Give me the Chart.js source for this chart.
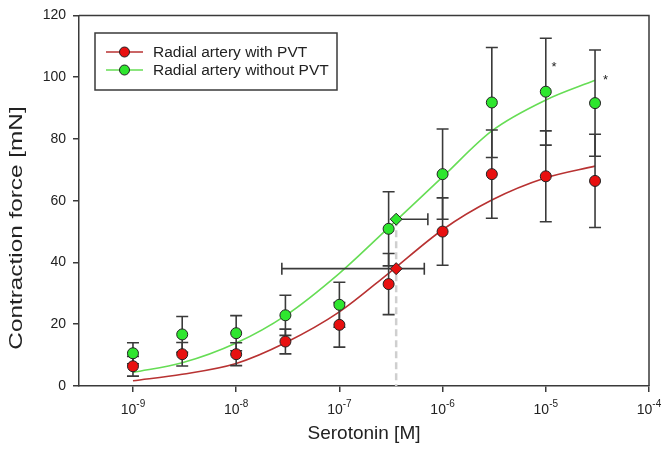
<!DOCTYPE html>
<html>
<head>
<meta charset="utf-8">
<script src="https://cdn.jsdelivr.net/npm/chart.js@4/dist/chart.umd.min.js"></script>
<style>
  html, body { margin: 0; padding: 0; background: #fff; }
  #wrap { width: 666px; height: 453px; }
</style>
</head>
<body>
<div id="wrap"><canvas id="chart" width="666" height="453"></canvas></div>
<script>
// serotonin concentrations [M]
const conc = [1e-9, 3e-9, 1e-8, 3e-8, 1e-7, 3e-7, 1e-6, 3e-6, 1e-5, 3e-5];

// mean contraction force [mN] and error
const withPvt = [6.4, 10.3, 10.3, 14.4, 19.8, 33.0, 50.0, 68.6, 67.9, 66.4];
const withPvtErr = [3.2, 3.8, 3.7, 4.0, 7.2, 9.9, 10.9, 14.3, 14.7, 15.1];
const withoutPvt = [10.6, 16.7, 17.1, 22.9, 26.3, 50.9, 68.6, 91.8, 95.3, 91.6];
const withoutPvtErr = [3.4, 5.8, 5.7, 6.5, 7.3, 12.0, 14.6, 17.8, 17.3, 17.2];

// fitted curves, read at each concentration
const fitWithPvt = [1.7, 3.8, 7.3, 14.0, 24.0, 36.5, 50.6, 60.2, 67.4, 71.2];
const fitWithoutPvt = [4.4, 7.5, 13.9, 22.8, 36.5, 51.3, 67.7, 82.6, 92.6, 99.0];

// EC50 markers: [with PVT, without PVT]
const ec50X = [3.55e-7, 3.55e-7];
const ec50Y = [38.0, 54.0];
const ec50Lo = [2.77e-8, 3.55e-7];
const ec50Hi = [6.65e-7, 7.2e-7];

// significance stars
const starX = [1.2e-5, 3.8e-5];
const starY = [104, 100];

// axis ticks
const xTicks = [1e-9, 1e-8, 1e-7, 1e-6, 1e-5, 1e-4];
const xExp = ['-9', '-8', '-7', '-6', '-5', '-4'];
const yTicks = [0, 20, 40, 60, 80, 100, 120];

const seriesNames = ['Radial artery with PVT', 'Radial artery without PVT'];
const RED = '#e81010', GREEN = '#2ee62e';
const RED_LINE = '#b83232', GREEN_LINE = '#66dd55';
const INK = '#3a3a3a';
const FONT = 'Arial, "Liberation Sans", sans-serif';

const pts = (xs, ys) => xs.map((x, i) => ({ x: x, y: ys[i] }));

// error bars, EC50 ranges and the dashed EC50 drop line (drawn under the markers)
const errorBars = {
  id: 'errorBars',
  beforeDatasetDraw(chart, args) {
    if (args.index !== 2) return;
    const { ctx, scales: { x, y }, chartArea } = chart;
    ctx.save();
    ctx.beginPath();
    ctx.rect(chartArea.left, chartArea.top, chartArea.right - chartArea.left, chartArea.bottom - chartArea.top);
    ctx.clip();

    // dashed drop line
    ctx.strokeStyle = '#cfcfcf';
    ctx.lineWidth = 2.5;
    ctx.setLineDash([7, 4]);
    ctx.beginPath();
    ctx.moveTo(x.getPixelForValue(ec50X[0]), y.getPixelForValue(ec50Y[1]));
    ctx.lineTo(x.getPixelForValue(ec50X[0]), y.getPixelForValue(0));
    ctx.stroke();
    ctx.setLineDash([]);

    ctx.strokeStyle = INK;
    ctx.lineWidth = 1.6;
    const cap = 6;
    [[withPvt, withPvtErr], [withoutPvt, withoutPvtErr]].forEach(([m, e]) => {
      conc.forEach((c, i) => {
        const px = x.getPixelForValue(c);
        const top = y.getPixelForValue(m[i] + e[i]);
        const bot = y.getPixelForValue(m[i] - e[i]);
        ctx.beginPath();
        ctx.moveTo(px, top); ctx.lineTo(px, bot);
        ctx.moveTo(px - cap, top); ctx.lineTo(px + cap, top);
        ctx.moveTo(px - cap, bot); ctx.lineTo(px + cap, bot);
        ctx.stroke();
      });
    });

    // horizontal EC50 ranges
    ec50X.forEach((c, i) => {
      const py = y.getPixelForValue(ec50Y[i]);
      const l = x.getPixelForValue(ec50Lo[i]);
      const r = x.getPixelForValue(ec50Hi[i]);
      ctx.beginPath();
      ctx.moveTo(l, py); ctx.lineTo(r, py);
      ctx.moveTo(r, py - cap); ctx.lineTo(r, py + cap);
      if (ec50Lo[i] < c) { ctx.moveTo(l, py - cap); ctx.lineTo(l, py + cap); }
      ctx.stroke();
    });
    ctx.restore();
  }
};

// frame, superscript tick labels, axis titles, legend, stars
const decorations = {
  id: 'decorations',
  afterDraw(chart) {
    const { ctx, scales: { x, y }, chartArea: a } = chart;
    ctx.save();

    // top and right frame
    ctx.strokeStyle = INK;
    ctx.lineWidth = 1.5;
    ctx.beginPath();
    ctx.moveTo(a.left, a.top); ctx.lineTo(a.right, a.top); ctx.lineTo(a.right, a.bottom);
    ctx.stroke();

    // x tick labels as 10 with superscript exponent
    ctx.fillStyle = '#222';
    ctx.textBaseline = 'alphabetic';
    xTicks.forEach((v, i) => {
      const px = x.getPixelForValue(v);
      ctx.font = '14px ' + FONT;
      const wBase = ctx.measureText('10').width;
      ctx.font = '10px ' + FONT;
      const wExp = ctx.measureText(xExp[i]).width;
      const start = px - (wBase + wExp) / 2;
      ctx.font = '14px ' + FONT;
      ctx.textAlign = 'left';
      ctx.fillText('10', start, 414);
      ctx.font = '10px ' + FONT;
      ctx.fillText(xExp[i], start + wBase, 407);
    });

    // axis titles
    ctx.font = '19px ' + FONT;
    ctx.textAlign = 'center';
    ctx.textBaseline = 'middle';
    ctx.fillText('Serotonin [M]', (a.left + a.right) / 2, 434);
    ctx.save();
    ctx.translate(17, 228);
    ctx.rotate(-Math.PI / 2);
    ctx.scale(1.28, 1);
    ctx.fillText('Contraction force [mN]', 0, 0);
    ctx.restore();

    // stars
    ctx.font = '13px ' + FONT;
    starX.forEach((sx, i) => {
      ctx.fillText('*', x.getPixelForValue(sx), y.getPixelForValue(starY[i]) + 3);
    });

    // legend box
    const lx = 95, ly = 33, lw = 242, lh = 57;
    ctx.fillStyle = '#fff';
    ctx.fillRect(lx, ly, lw, lh);
    ctx.strokeStyle = INK;
    ctx.lineWidth = 1.5;
    ctx.strokeRect(lx, ly, lw, lh);
    const rows = [
      { name: seriesNames[0], line: RED_LINE, fill: RED, yy: 52 },
      { name: seriesNames[1], line: GREEN_LINE, fill: GREEN, yy: 70 }
    ];
    rows.forEach(r => {
      ctx.strokeStyle = r.line;
      ctx.lineWidth = 1.5;
      ctx.beginPath();
      ctx.moveTo(106, r.yy); ctx.lineTo(143, r.yy);
      ctx.stroke();
      ctx.beginPath();
      ctx.arc(124.5, r.yy, 5, 0, Math.PI * 2);
      ctx.fillStyle = r.fill;
      ctx.fill();
      ctx.strokeStyle = '#222';
      ctx.lineWidth = 1;
      ctx.stroke();
      ctx.fillStyle = '#222';
      ctx.font = '15.5px ' + FONT;
      ctx.textAlign = 'left';
      ctx.textBaseline = 'middle';
      ctx.fillText(r.name, 153, r.yy + 1);
    });
    ctx.restore();
  }
};

new Chart(document.getElementById('chart'), {
  type: 'scatter',
  data: {
    datasets: [
      {
        label: 'EC50',
        data: pts(ec50X, ec50Y),
        pointStyle: 'rectRot',
        pointRadius: 6,
        pointHoverRadius: 6,
        backgroundColor: [RED, GREEN],
        borderColor: '#222',
        borderWidth: 1
      },
      {
        label: seriesNames[1],
        data: pts(conc, withoutPvt),
        pointRadius: 5.5,
        backgroundColor: GREEN,
        borderColor: '#222',
        borderWidth: 1
      },
      {
        label: seriesNames[0],
        data: pts(conc, withPvt),
        pointRadius: 5.5,
        backgroundColor: RED,
        borderColor: '#222',
        borderWidth: 1
      },
      {
        label: 'fit without PVT',
        type: 'line',
        data: pts(conc, fitWithoutPvt),
        borderColor: GREEN_LINE,
        borderWidth: 1.6,
        pointRadius: 0,
        cubicInterpolationMode: 'monotone',
        fill: false
      },
      {
        label: 'fit with PVT',
        type: 'line',
        data: pts(conc, fitWithPvt),
        borderColor: RED_LINE,
        borderWidth: 1.6,
        pointRadius: 0,
        cubicInterpolationMode: 'monotone',
        fill: false
      }
    ]
  },
  options: {
    responsive: false,
    animation: false,
    events: [],
    layout: { padding: { left: 0, right: 17, top: 12, bottom: 0 } },
    plugins: {
      legend: { display: false },
      tooltip: { enabled: false }
    },
    scales: {
      x: {
        type: 'logarithmic',
        min: 3e-10,
        max: 1e-4,
        afterFit: s => { s.height = 67; },
        afterBuildTicks: s => { s.ticks = xTicks.map(v => ({ value: v })); },
        ticks: { callback: () => '', autoSkip: false },
        grid: { drawOnChartArea: false, tickLength: 6, color: INK, lineWidth: 1.5 },
        border: { color: INK, width: 1.5 }
      },
      y: {
        min: 0,
        max: 120,
        afterFit: s => { s.width = 79; },
        afterBuildTicks: s => { s.ticks = yTicks.map(v => ({ value: v })); },
        ticks: { color: '#222', padding: 7, font: { size: 14, family: FONT } },
        grid: { drawOnChartArea: false, tickLength: 6, color: INK, lineWidth: 1.5 },
        border: { color: INK, width: 1.5 }
      }
    }
  },
  plugins: [errorBars, decorations]
});
</script>
</body>
</html>
